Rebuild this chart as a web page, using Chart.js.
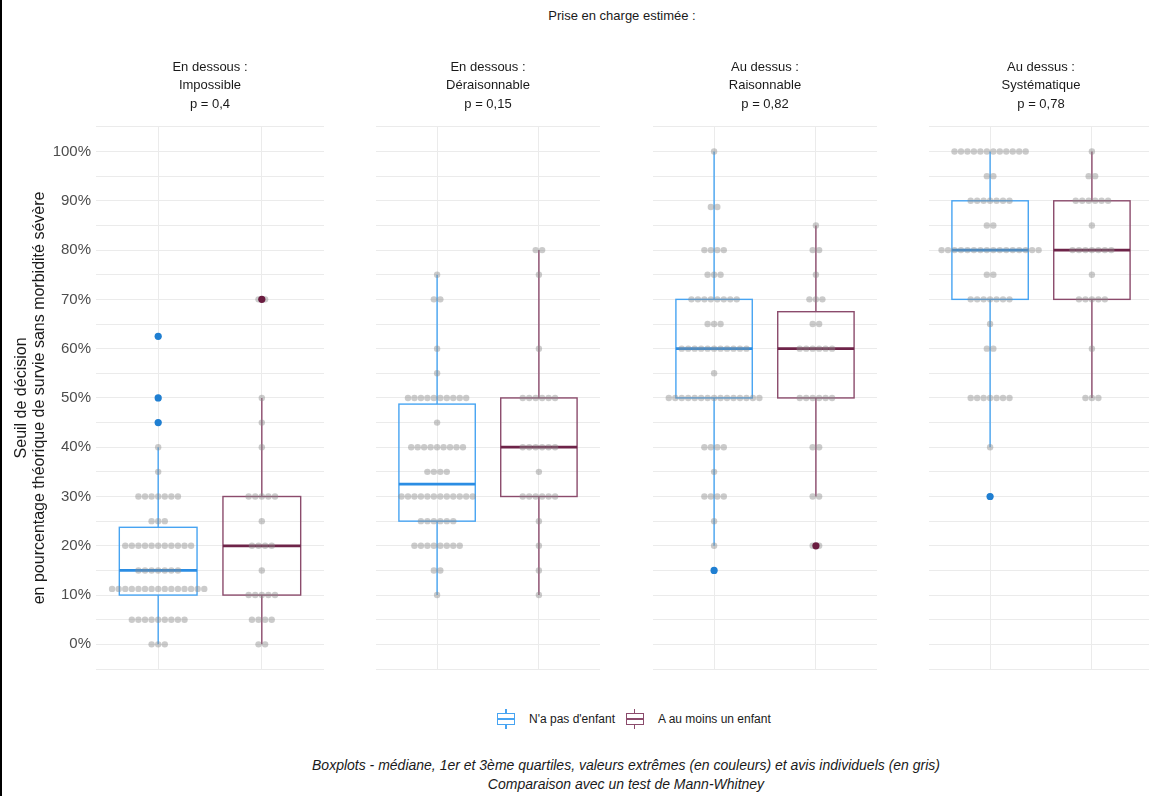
<!DOCTYPE html>
<html lang="fr">
<head>
<meta charset="utf-8">
<title>Seuil de décision</title>
<script src="https://cdn.jsdelivr.net/npm/chart.js@4.4.1/dist/chart.umd.min.js"></script>
<style>
  html, body { margin: 0; padding: 0; background: #fff; overflow: hidden; }
  #page { position: relative; width: 1149px; height: 796px; overflow: hidden;
          font-family: "Liberation Sans", Arial, sans-serif; color: #1a1a1a; }
  #edge { position: absolute; left: 0; top: 0; width: 2px; height: 796px; background: #000; z-index: 5; }
  canvas { position: absolute; top: 0; }
  #maintitle { position: absolute; top: 8px; left: 622px; transform: translateX(-50%);
               font-size: 13px; white-space: nowrap; }
  #legend { position: absolute; top: 709px; left: 497px; height: 20px; display: flex;
            align-items: center; font-size: 12px; white-space: nowrap; }
  .key { position: relative; display: inline-block; width: 18px; height: 20px; margin-right: 14px; }
  .key::before { content: ""; position: absolute; left: 8px; top: 0; bottom: 0; width: 1.5px; background: var(--c); }
  .key i { position: absolute; left: 0; right: 0; top: 4px; bottom: 4px; border: 1.5px solid var(--c);
           background: #fff; box-sizing: border-box; }
  .key i::after { content: ""; position: absolute; left: 0; right: 0; top: 3.5px; height: 2px; background: var(--c); }
  .gap { display: inline-block; width: 11px; }
  #caption { position: absolute; top: 756px; left: 626px; transform: translateX(-50%);
             font-size: 14px; font-style: italic; text-align: center; line-height: 19px; white-space: nowrap; }
</style>
</head>
<body>
<div id="page">
  <div id="edge"></div>
  <div id="maintitle">Prise en charge estimée :</div>
  <canvas id="f0" width="328" height="673" style="left:0px"></canvas>
  <canvas id="f1" width="232" height="673" style="left:372px"></canvas>
  <canvas id="f2" width="232" height="673" style="left:649px"></canvas>
  <canvas id="f3" width="232" height="673" style="left:925px"></canvas>
  <div id="legend"></div>
  <div id="caption">Boxplots - médiane, 1er et 3ème quartiles, valeurs extrêmes (en couleurs) et avis individuels (en gris)<br>Comparaison avec un test de Mann-Whitney</div>
</div>
<script>
// facettes
var facetHeads = ['En dessous :', 'En dessous :', 'Au dessus :', 'Au dessus :'];
var facetNames = ['Impossible', 'Déraisonnable', 'Raisonnable', 'Systématique'];
var pValues = ['0,4', '0,15', '0,82', '0,78'];
var groups = ["N'a pas d'enfant", 'A au moins un enfant'];

// boxplots, une paire [sans enfant, avec enfant] par facette (en %)
var boxLow  = [[0, 0],      [10, 10],     [20, 30],   [40, 50]];
var boxQ1   = [[10, 10],    [25, 30],     [50, 50],   [70, 70]];
var boxMed  = [[15, 20],    [32.5, 40],   [60, 60],   [80, 80]];
var boxQ3   = [[23.75, 30], [48.75, 50],  [70, 67.5], [90, 90]];
var boxHigh = [[40, 50],    [75, 80],     [100, 85],  [100, 100]];
var outliers = [[[45, 50, 62.5], [70]], [[], []], [[15], [20]], [[30], []]];

// avis individuels : niveau (en %) et nombre de réponses à ce niveau
var dotLevels = [
  [[0, 5, 11.25, 15, 20, 25, 30, 35, 40, 45, 50, 62.5], [0, 5, 10, 15, 20, 25, 30, 40, 45, 50, 70]],
  [[10, 15, 20, 25, 30, 35, 40, 45, 50, 55, 60, 70, 75], [10, 15, 20, 25, 30, 35, 40, 50, 60, 75, 80]],
  [[15, 20, 25, 30, 35, 40, 50, 55, 60, 65, 70, 75, 80, 88.75, 100], [20, 30, 40, 50, 60, 65, 70, 75, 80, 85]],
  [[30, 40, 50, 60, 65, 70, 75, 80, 85, 90, 95, 100], [50, 60, 70, 75, 80, 85, 90, 95, 100]]
];
var dotCounts = [
  [[3, 9, 15, 7, 11, 3, 7, 1, 1, 1, 1, 1], [2, 4, 5, 1, 4, 1, 5, 1, 1, 1, 2]],
  [[1, 2, 8, 6, 12, 4, 9, 1, 10, 1, 1, 2, 1], [1, 1, 1, 1, 6, 1, 6, 6, 1, 1, 2]],
  [[1, 1, 1, 4, 1, 4, 15, 1, 11, 3, 8, 3, 4, 2, 1], [2, 2, 2, 6, 6, 2, 3, 1, 2, 1]],
  [[1, 1, 7, 2, 1, 7, 2, 16, 2, 7, 2, 12], [3, 1, 5, 1, 7, 1, 6, 2, 1]]
];

var FONT = '"Liberation Sans", Arial, sans-serif';
var boxColors = ['#47a4f2', '#8b4b6c'];
var medColors = ['#2b8de3', '#6e2449'];
var outColors = ['#1f7fd2', '#6a1c40'];
var dotColor = 'rgba(140,140,140,0.45)';
var gridColor = '#ebebeb';
var boxWidth = 0.75;
var dotStep = 6.7 / 105.45;

function stackDots(k) {
    var pts = [];
    for (var g = 0; g < 2; g++) {
        var levels = dotLevels[k][g], counts = dotCounts[k][g];
        levels.forEach(function (v, r) {
            var n = counts[r];
            for (var i = 0; i < n; i++) {
                pts.push({ x: g + (i - (n - 1) / 2) * dotStep, y: v });
            }
        });
    }
    return pts;
}

function makeBoxPlugin(k) {
    return {
        id: 'boxes' + k,
        beforeDatasetsDraw: function (chart) {
            var ctx = chart.ctx, x = chart.scales.x, y = chart.scales.y;
            ctx.save();
            for (var g = 0; g < 2; g++) {
                var cx = x.getPixelForValue(g);
                var x0 = x.getPixelForValue(g - boxWidth / 2), x1 = x.getPixelForValue(g + boxWidth / 2);
                var yLo = y.getPixelForValue(boxLow[k][g]), yHi = y.getPixelForValue(boxHigh[k][g]);
                var yQ1 = y.getPixelForValue(boxQ1[k][g]), yQ3 = y.getPixelForValue(boxQ3[k][g]);
                var yMed = y.getPixelForValue(boxMed[k][g]);
                ctx.strokeStyle = boxColors[g];
                ctx.lineWidth = 1.4;
                ctx.beginPath();
                ctx.moveTo(cx, yHi); ctx.lineTo(cx, yQ3);
                ctx.moveTo(cx, yQ1); ctx.lineTo(cx, yLo);
                ctx.stroke();
                ctx.strokeRect(x0, yQ3, x1 - x0, yQ1 - yQ3);
                ctx.strokeStyle = medColors[g];
                ctx.lineWidth = 2.8;
                ctx.beginPath();
                ctx.moveTo(x0, yMed); ctx.lineTo(x1, yMed);
                ctx.stroke();
            }
            ctx.restore();
        }
    };
}

function facetChart(k) {
    var first = k === 0;
    var datasets = [{
        data: stackDots(k),
        backgroundColor: dotColor,
        borderWidth: 0,
        pointRadius: 3.2,
        order: 2
    }];
    for (var g = 0; g < 2; g++) {
        datasets.push({
            data: outliers[k][g].map(function (v) { return { x: g, y: v }; }),
            backgroundColor: outColors[g],
            borderWidth: 0,
            pointRadius: 3.6,
            order: 1
        });
    }
    var yAxis = {
        min: -5, max: 105,
        ticks: {
            display: first, stepSize: 5, autoSkip: false, padding: 5,
            color: '#4d4d4d', font: { family: FONT, size: 15 },
            callback: function (v) {
                var r = Math.round(v);
                return (r >= 0 && r <= 100 && r % 10 === 0) ? r + '%' : '';
            }
        },
        grid: { color: gridColor, drawTicks: false },
        border: { display: false },
        afterFit: function (s) { s.width = first ? 96 : 0; s.paddingTop = 0; s.paddingBottom = 0; }
    };
    if (first) {
        yAxis.title = {
            display: true,
            text: ['Seuil de décision', 'en pourcentage théorique de survie sans morbidité sévère'],
            color: '#1a1a1a', font: { family: FONT, size: 16, lineHeight: 1.125 },
            padding: { top: 13, bottom: 0 }
        };
    }
    return new Chart(document.getElementById('f' + k), {
        type: 'scatter',
        data: { datasets: datasets },
        options: {
            responsive: false,
            animation: false,
            events: [],
            layout: { padding: 0 },
            scales: {
                x: {
                    type: 'linear', min: -0.6, max: 1.6,
                    afterBuildTicks: function (s) { s.ticks = [{ value: 0 }, { value: 1 }]; },
                    ticks: { display: false },
                    grid: { color: gridColor, drawTicks: false },
                    border: { display: false },
                    afterFit: function (s) { s.height = 0; s.paddingLeft = 0; s.paddingRight = 0; }
                },
                y: yAxis
            },
            plugins: {
                legend: { display: false },
                tooltip: { enabled: false },
                title: {
                    display: true, fullSize: false,
                    text: [facetHeads[k], facetNames[k], 'p = ' + pValues[k]],
                    color: '#1a1a1a', font: { family: FONT, size: 13, weight: 'normal', lineHeight: 1.42 },
                    padding: { top: 58, bottom: 13.5 }
                }
            }
        },
        plugins: [makeBoxPlugin(k)]
    });
}

for (var k = 0; k < 4; k++) facetChart(k);

// légende
var legendHtml = '';
groups.forEach(function (name, g) {
    if (g > 0) legendHtml += '<span class="gap"></span>';
    legendHtml += '<span class="key" style="--c:' + boxColors[g] + '"><i></i></span><span>' + name + '</span>';
});
document.getElementById('legend').innerHTML = legendHtml;
</script>
</body>
</html>
